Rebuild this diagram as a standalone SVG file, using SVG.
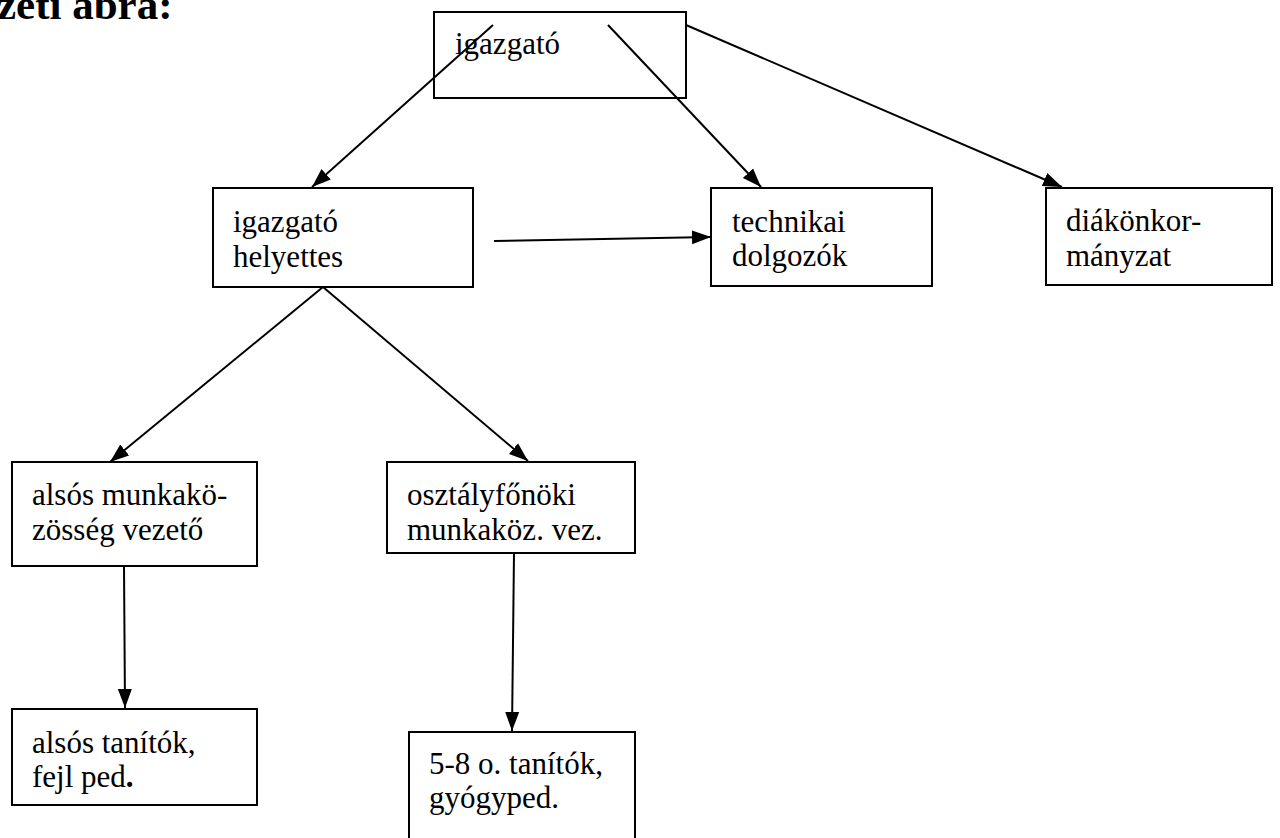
<svg xmlns="http://www.w3.org/2000/svg" width="1280" height="838" viewBox="0 0 1280 838">
<style>
.box{fill:#fff;stroke:#000;stroke-width:2}
.t{font-family:"Liberation Serif","Times New Roman",serif;font-size:31px;fill:#000}
.title{font-family:"Liberation Serif","Times New Roman",serif;font-size:43px;font-weight:bold;fill:#000}
.c{stroke:#000;stroke-width:2;fill:none;marker-end:url(#ah)}
</style>
<defs>
<marker id="ah" markerUnits="userSpaceOnUse" markerWidth="20" markerHeight="16" refX="19" refY="8" orient="auto">
<path d="M0,1 L19,8 L0,15 Z" fill="#000"/>
</marker>
</defs>
<rect width="1280" height="838" fill="#fff"/>
<text class="title" x="-3" y="19">zeti ábra:</text>

<g id="n-igazgato">
<rect class="box" x="434" y="12" width="252" height="86"/>
<text class="t" x="455" y="54">igazgató</text>
</g>
<g id="n-helyettes">
<rect class="box" x="213" y="188" width="260" height="99"/>
<text class="t" x="233" y="232">igazgató</text>
<text class="t" x="233" y="267">helyettes</text>
</g>
<g id="n-technikai">
<rect class="box" x="711" y="188" width="221" height="98"/>
<text class="t" x="732" y="232">technikai</text>
<text class="t" x="732" y="266">dolgozók</text>
</g>
<g id="n-diak">
<rect class="box" x="1046" y="188" width="226" height="97"/>
<text class="t" x="1066" y="231">diákönkor-</text>
<text class="t" x="1066" y="266">mányzat</text>
</g>
<g id="n-also-mk">
<rect class="box" x="12" y="462" width="245" height="104"/>
<text class="t" x="32" y="505">alsós munkakö-</text>
<text class="t" x="32" y="540">zösség vezető</text>
</g>
<g id="n-osztaly">
<rect class="box" x="387" y="462" width="248" height="91"/>
<text class="t" x="407" y="505">osztályfőnöki</text>
<text class="t" x="407" y="540">munkaköz. vez.</text>
</g>
<g id="n-also-tan">
<rect class="box" x="12" y="709" width="245" height="96"/>
<text class="t" x="32" y="753">alsós tanítók,</text>
<text class="t" x="32" y="787">fejl ped<tspan font-weight="bold">.</tspan></text>
</g>
<g id="n-58">
<rect class="box" x="409" y="732" width="226" height="120"/>
<text class="t" x="429" y="774">5-8 o. tanítók,</text>
<text class="t" x="429" y="808">gyógyped.</text>
</g>

<g id="connectors">
<line class="c" x1="493" y1="25" x2="312" y2="187"/>
<line class="c" x1="608" y1="25" x2="761" y2="187"/>
<line class="c" x1="686" y1="25" x2="1062" y2="187"/>
<line class="c" x1="494" y1="241" x2="711" y2="237"/>
<line class="c" x1="323" y1="287" x2="110" y2="462"/>
<line class="c" x1="323" y1="287" x2="528" y2="461"/>
<line class="c" x1="124" y1="566" x2="125" y2="708"/>
<line class="c" x1="514" y1="553" x2="512" y2="731"/>
</g>
</svg>
